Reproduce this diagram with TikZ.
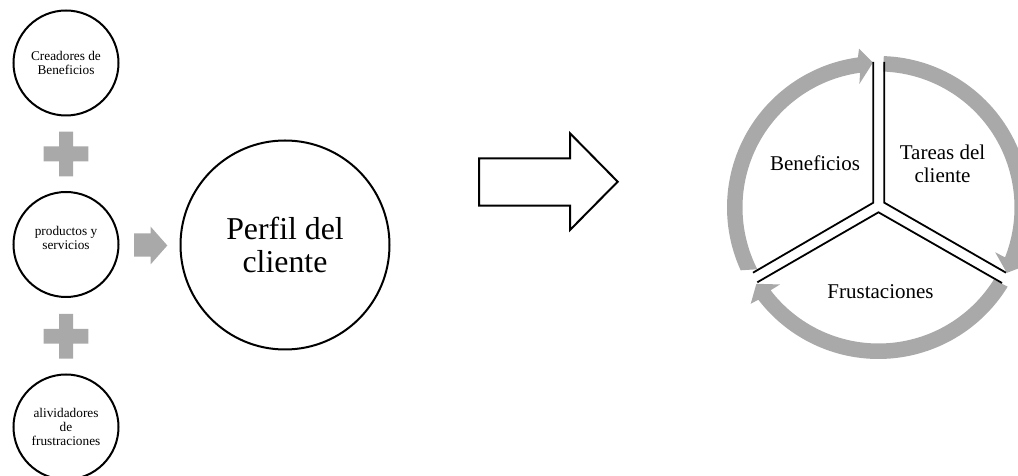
\documentclass[tikz,border=0pt]{standalone}
\usepackage{fontspec}
\setmainfont{Liberation Serif}
\definecolor{ringgray}{HTML}{A9A9A9}
\tikzset{
  x=1pt,y=1pt,
  smallcirc/.style={circle,draw=black,line width=2pt,minimum size=105pt,inner sep=0pt,align=center,font=\fontsize{13.3}{13.8}\selectfont},
  bigcirc/.style={circle,draw=black,line width=2pt,minimum size=209pt,inner sep=0pt,align=center,font=\fontsize{31.8}{33}\selectfont},
  ringlabel/.style={inner sep=0pt,align=center,font=\fontsize{21}{23}\selectfont},
  band/.style={fill=ringgray,draw=none},
  sector/.style={draw=black,line width=1.8pt,line join=miter},
}
\begin{document}
\begin{tikzpicture}
\useasboundingbox (0,0) rectangle (1018,476);
\clip (0,0) rectangle (1018,476);
% left circles (y measured up: 476 - pixel y)
\node[smallcirc] (crea) at (66,413) {Creadores de\\Beneficios};
\node[smallcirc] (prod) at (66,231.5) {productos y\\servicios\\\mbox{}};
\node[smallcirc] (aliv) at (66,49) {alividadores\\de\\frustraciones};
\node[bigcirc] (perfil) at (285,231) {Perfil del\\cliente};
% plus signs
\fill[ringgray] (59,344.3) -- (73,344.3) -- (73,329.7) -- (88.3,329.7) -- (88.3,314.7) -- (73,314.7) -- (73,299.7) -- (59,299.7) -- (59,314.7) -- (43.7,314.7) -- (43.7,329.7) -- (59,329.7) -- cycle;
\fill[ringgray] (59,162) -- (73,162) -- (73,147) -- (88.3,147) -- (88.3,132.3) -- (73,132.3) -- (73,117.3) -- (59,117.3) -- (59,132.3) -- (43.7,132.3) -- (43.7,147) -- (59,147) -- cycle;
% gray arrow
\fill[ringgray] (134,242.7) -- (150.7,242.7) -- (150.7,249.3) -- (167.3,230.5) -- (150.7,211.7) -- (150.7,219.3) -- (134,219.3) -- cycle;
% big outline arrow
\draw[black,line width=2pt,line join=miter] (479,317.7) -- (570,317.7) -- (570,342.7) -- (617.7,294.3) -- (570,246) -- (570,270.3) -- (479,270.3) -- cycle;
% ring
\coordinate (C) at (878.5,268.5);
\fill[band] ([shift={(88:151.5)}]C) arc[start angle=88,end angle=-21.5,radius=151.5]
  -- ([shift={(-21:160)}]C) -- ([shift={(-27:144)}]C) -- ([shift={(-21:125)}]C) -- ([shift={(-21.5:136)}]C)
  arc[start angle=-21.5,end angle=88,radius=136] -- cycle;
\fill[band] ([shift={(-31.5:151.5)}]C) arc[start angle=-31.5,end angle=-142.5,radius=151.5]
  -- ([shift={(-143:160)}]C) -- ([shift={(-148:144)}]C) -- ([shift={(-142:125)}]C) -- ([shift={(-142.5:136)}]C)
  arc[start angle=-142.5,end angle=-32,radius=136] -- cycle;
\fill[band] ([shift={(204.5:151.5)}]C) arc[start angle=204.5,end angle=97.8,radius=151.5]
  -- ([shift={(97:160)}]C) -- ([shift={(92.2:145)}]C) -- ([shift={(98.8:125)}]C) -- ([shift={(97.8:136)}]C)
  arc[start angle=97.8,end angle=207,radius=136] -- cycle;
% sector outlines
\draw[sector] (873.3,414) -- (873.3,273.3) -- (753,203.3);
\draw[sector] (884.3,414) -- (884.3,273.3) -- (1006,203.3);
\draw[sector] (757.3,193.7) -- (878.5,263.7) -- (1002,193);
\node[ringlabel] (ben) at (815,313) {Beneficios};
\node[ringlabel] (tar) at (942.5,312) {Tareas del\\cliente};
\node[ringlabel] (fru) at (880.5,184.5) {Frustaciones};
\end{tikzpicture}
\end{document}
